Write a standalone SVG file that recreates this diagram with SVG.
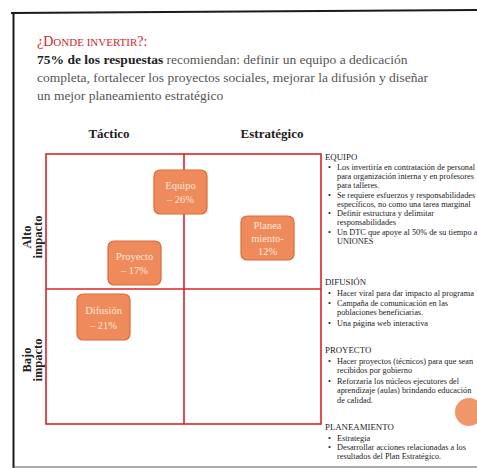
<svg xmlns="http://www.w3.org/2000/svg" width="477" height="468" viewBox="0 0 477 468">
<defs>
<style>
.frame{stroke:#1a1a1a;stroke-width:2;fill:none}
.grid{stroke:#d8242a;stroke-width:1.6;fill:none}
.box{fill:#ef8a5b;stroke:#dd6a3a;stroke-width:1.2}
.bt{font-family:"Liberation Serif",serif;font-size:10.5px;fill:#fde9dd;text-anchor:middle}
.hdr{font-family:"Liberation Serif",serif;font-size:13px;font-weight:bold;fill:#222;text-anchor:middle}
.row{font-family:"Liberation Serif",serif;font-size:12.5px;font-weight:bold;fill:#222;text-anchor:middle}
.body{font-family:"Liberation Serif",serif;font-size:13.5px;fill:#555}
.side{font-family:"Liberation Serif",serif;font-size:8.3px;fill:#222}
.sh{font-family:"Liberation Serif",serif;font-size:8.8px;fill:#222}
</style>
</defs>
<rect width="477" height="468" fill="#ffffff"/>
<g id="frame">
<line class="frame" x1="11" y1="13" x2="477" y2="10"/>
<line class="frame" x1="13.5" y1="12" x2="13.5" y2="468"/>
<line x1="13" y1="467" x2="477" y2="467" stroke="#555" stroke-width="1"/>
</g>
<g id="title">
<text x="37" y="46" font-family="Liberation Serif,serif" fill="#d8242a" font-size="14">¿D<tspan font-size="11">ONDE INVERTIR</tspan>?:</text>
<text class="body" x="37" y="64"><tspan font-weight="bold" fill="#222">75% de los respuestas</tspan> recomiendan: definir un equipo a dedicación</text>
<text class="body" x="37" y="82">completa, fortalecer los proyectos sociales, mejorar la difusión y diseñar</text>
<text class="body" x="37" y="100">un mejor planeamiento estratégico</text>
</g>
<g id="axes">
<text class="hdr" x="109" y="138">Táctico</text>
<text class="hdr" x="272" y="138">Estratégico</text>
<text class="row" transform="translate(31,237) rotate(-90)">Alto</text>
<text class="row" transform="translate(42,237) rotate(-90)">impacto</text>
<text class="row" transform="translate(31,360) rotate(-90)">Bajo</text>
<text class="row" transform="translate(42,360) rotate(-90)">impacto</text>
</g>
<g id="connectors">
<rect class="grid" x="46" y="154" width="275" height="270"/>
<line class="grid" x1="184" y1="154" x2="184" y2="424"/>
<line class="grid" x1="46" y1="289" x2="321" y2="289"/>
</g>
<g id="equipo">
<rect class="box" x="154" y="170" width="53" height="44" rx="6"/>
<text class="bt" x="180.5" y="189">Equipo</text>
<text class="bt" x="180.5" y="203">– 26%</text>
</g>
<g id="planeamiento">
<rect class="box" x="241" y="216" width="53" height="44" rx="6"/>
<text class="bt" x="267.5" y="229">Planea</text>
<text class="bt" x="267.5" y="242">miento-</text>
<text class="bt" x="267.5" y="255">12%</text>
</g>
<g id="proyecto">
<rect class="box" x="108" y="241" width="53" height="44" rx="6"/>
<text class="bt" x="134.5" y="260">Proyecto</text>
<text class="bt" x="134.5" y="274">– 17%</text>
</g>
<g id="difusion">
<rect class="box" x="77" y="294" width="53" height="46" rx="6"/>
<text class="bt" x="103.5" y="314">Difusión</text>
<text class="bt" x="103.5" y="329">– 21%</text>
</g>
<g id="notes">
<text class="sh" x="325" y="160">EQUIPO</text>
<text class="side" x="328" y="170">•</text><text class="side" x="337" y="170">Los invertiría en contratación de personal</text>
<text class="side" x="337" y="179">para organización interna y en profesores</text>
<text class="side" x="337" y="188">para talleres.</text>
<text class="side" x="328" y="198">•</text><text class="side" x="337" y="198">Se requiere esfuerzos y responsabilidades</text>
<text class="side" x="337" y="207">específicos, no como una tarea marginal</text>
<text class="side" x="328" y="216">•</text><text class="side" x="337" y="216">Definir estructura y delimitar</text>
<text class="side" x="337" y="225">responsabilidades</text>
<text class="side" x="328" y="235">•</text><text class="side" x="337" y="235">Un DTC que apoye al 50% de su tiempo a</text>
<text class="side" x="337" y="244">UNIONES</text>

<text class="sh" x="325" y="285">DIFUSIÓN</text>
<text class="side" x="328" y="296">•</text><text class="side" x="337" y="296">Hacer viral para dar impacto al programa</text>
<text class="side" x="328" y="306">•</text><text class="side" x="337" y="306">Campaña de comunicación en las</text>
<text class="side" x="337" y="315">poblaciones beneficiarias.</text>
<text class="side" x="328" y="326">•</text><text class="side" x="337" y="326">Una página web interactiva</text>

<text class="sh" x="325" y="353">PROYECTO</text>
<text class="side" x="328" y="364">•</text><text class="side" x="337" y="364">Hacer proyectos (técnicos) para que sean</text>
<text class="side" x="337" y="373">recibidos por gobierno</text>
<text class="side" x="328" y="384">•</text><text class="side" x="337" y="384">Reforzaría los núcleos ejecutores del</text>
<text class="side" x="337" y="393">aprendizaje (aulas) brindando educación</text>
<text class="side" x="337" y="403">de calidad.</text>

<text class="sh" x="325" y="430">PLANEAMIENTO</text>
<text class="side" x="328" y="441">•</text><text class="side" x="337" y="441">Estrategia</text>
<text class="side" x="328" y="450">•</text><text class="side" x="337" y="450">Desarrollar acciones relacionadas a los</text>
<text class="side" x="337" y="459">resultados del Plan Estratégico.</text>
</g>
<circle cx="469" cy="412" r="14" fill="#ef8a5b" opacity="0.9"/>
</svg>
